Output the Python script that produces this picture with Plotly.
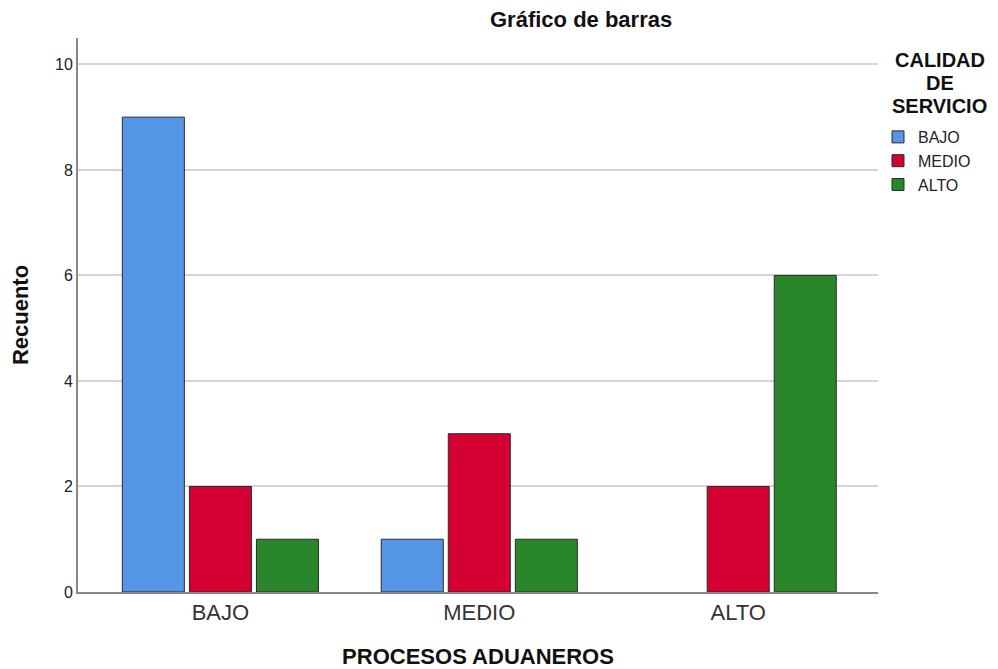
import plotly.graph_objects as go

categories = ["BAJO", "MEDIO", "ALTO"]
series_names = ["BAJO", "MEDIO", "ALTO"]
values_bajo = [9, 1, 0]
values_medio = [2, 3, 2]
values_alto = [1, 1, 6]
colors = ["#5597E6", "#D40032", "#2A862A"]
y_ticks = [0, 2, 4, 6, 8, 10]
legend_title_lines = ["CALIDAD", "DE", "SERVICIO"]

fig = go.Figure()
for name, vals, col in zip(series_names, [values_bajo, values_medio, values_alto], colors):
    fig.add_trace(go.Bar(
        x=categories, y=vals, name=name,
        marker=dict(color=col, line=dict(color="#2b2b2b", width=[1 if v else 0 for v in vals])),
    ))

font_family = "Liberation Sans, Arial, sans-serif"
annotations = [
    dict(text="<b>Gráfico de barras</b>", x=0.629, y=1.0, xref="paper", yref="paper",
         xanchor="center", yanchor="bottom", yshift=4,
         showarrow=False, font=dict(size=22, color="#111")),
]
for i, line in enumerate(legend_title_lines):
    annotations.append(dict(
        text="<b>%s</b>" % line, x=1.077, y=1.0, xref="paper", yref="paper",
        xanchor="center", yanchor="middle", yshift=-22 - 23 * i, showarrow=False,
        borderpad=0, font=dict(size=20, color="#111")))

fig.update_layout(
    width=990, height=661,
    margin=dict(l=70, r=120, t=30, b=77),
    paper_bgcolor="white", plot_bgcolor="white",
    barmode="group", bargap=0.223, bargroupgap=0.075,
    font=dict(family=font_family, color="#222"),
    showlegend=True,
    legend=dict(x=1.0, y=0.852, xanchor="left", yanchor="top",
                font=dict(size=16, color="#222"), tracegroupgap=0,
                itemwidth=30, bgcolor="rgba(0,0,0,0)"),
    annotations=annotations,
)

fig.update_xaxes(
    range=[-0.55, 2.54], showline=True, linecolor="#888", linewidth=2,
    ticks="", tickfont=dict(size=22, color="#333"), automargin=False,
    title=dict(text="<b>PROCESOS ADUANEROS</b>", font=dict(size=22, color="#111"), standoff=28),
    showgrid=False,
)
fig.update_yaxes(
    range=[0, 10.5], tickvals=y_ticks, showline=True, linecolor="#888", linewidth=2,
    showgrid=True, gridcolor="#d4d4d4", gridwidth=2, zeroline=False, automargin=False,
    ticks="", tickfont=dict(size=16, color="#222"),
    title=dict(text="<b>Recuento</b>", font=dict(size=22, color="#111"), standoff=20),
)

fig.write_html("out.html")
